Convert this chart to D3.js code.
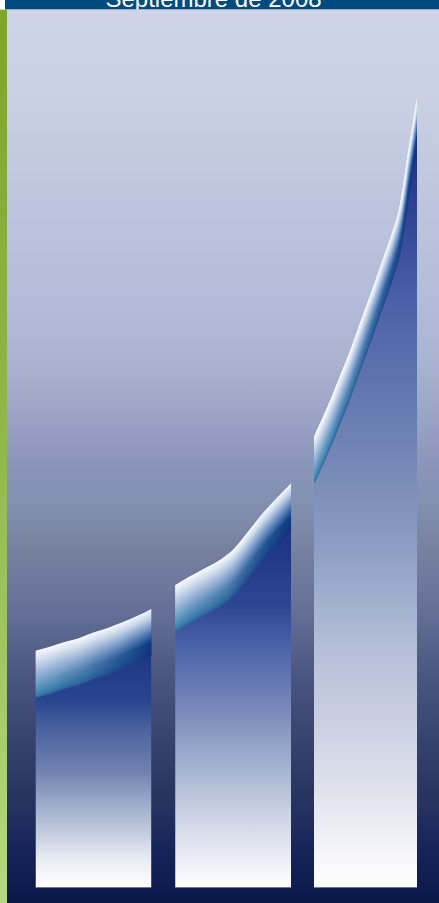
<!DOCTYPE html>
<html>
<head>
<meta charset="utf-8">
<script src="https://cdn.jsdelivr.net/npm/d3@7/dist/d3.min.js"></script>
<style>
  html, body { margin: 0; padding: 0; background: #ffffff; }
  svg { display: block; }
</style>
</head>
<body>
<script>
// ---------------- DATA ----------------
const title = "Septiembre de 2008";
const categories = ["Periodo 1", "Periodo 2", "Periodo 3"];
const barStart = [0, 36.6, 73.0];     // position along the period axis (0-100)
const barEnd   = [30.4, 67.0, 100];
const bar1Top = [29.9, 30.4, 31.0, 31.5, 32.2, 32.8, 33.5, 34.3, 35.2];
const bar2Top = [38.2, 39.3, 40.3, 41.3, 42.7, 44.9, 47.2, 49.2, 51.1];
const bar3Top = [57.0, 59.4, 61.9, 64.6, 67.3, 70.3, 73.3, 76.3, 79.4, 82.5, 86.3, 93.3, 100];
const barTops = [bar1Top, bar2Top, bar3Top];

// ---------------- STYLES ----------------
const W = 439, H = 903;
const baseY = 887, topY = 97;
const bandDepth = 46;
const bgStops = [
  [0, "#cfd5e7"], [0.11, "#c9d0e4"], [0.33, "#b3bcd8"], [0.40, "#aab3d0"],
  [0.465, "#9aa3c4"], [0.51, "#8c96ba"], [0.555, "#8390b0"], [0.61, "#76819f"],
  [0.665, "#69739a"], [0.75, "#4a5680"], [0.83, "#34406c"], [0.886, "#283460"],
  [0.94, "#17245a"], [1, "#0a1848"]
];
const greenStops = [[0, "#7ea428"], [0.5, "#92b84c"], [1, "#b4da80"]];
const bodyStops = [
  [[0, "#10287a"], [0.33, "#2a4590"], [0.435, "#4a63a0"], [0.58, "#7080b0"], [0.69, "#98a8c8"], [0.795, "#c0c8dc"], [0.9, "#e8ecf4"], [1, "#ffffff"]],
  [[0, "#10287a"], [0.3, "#2e4592"], [0.4, "#4a62a8"], [0.55, "#7586b8"], [0.7, "#a4b2d0"], [0.85, "#d4dae8"], [0.95, "#f0f2f8"], [1, "#ffffff"]],
  [[0, "#10287a"], [0.13, "#2a4090"], [0.257, "#4a60a8"], [0.485, "#7a8cb8"], [0.573, "#8e9ec4"], [0.70, "#b5c0d8"], [0.763, "#c4cade"], [0.865, "#dcdfeb"], [0.953, "#f4f4f8"], [1, "#ffffff"]]
];
const bandLeft = d3.scaleLinear()
  .domain([0, 0.1, 0.3, 0.55, 0.8, 0.95, 1])
  .range(["#f6f8fc", "#e6ecf5", "#c0d0e6", "#8eb0d2", "#5a96bc", "#3a80ac", "#2e6ca0"]);
const bandRight = d3.scaleLinear()
  .domain([0, 0.15, 0.35, 0.55, 0.7, 1])
  .range(["#f0f4fa", "#c8d6ea", "#7e9cca", "#3a64a4", "#0c3c82", "#14307e"]);

// ---------------- SCALES ----------------
const x = d3.scaleLinear().domain([0, 100]).range([35.5, 417]);
const y = d3.scaleLinear().domain([0, 100]).range([baseY, topY]);

const svg = d3.select("body").append("svg").attr("width", W).attr("height", H);
const defs = svg.append("defs");

function vGrad(id, stops, units) {
  const g = defs.append("linearGradient").attr("id", id)
    .attr("x1", 0).attr("x2", 0).attr("y1", 0).attr("y2", units === "user" ? H : 1);
  if (units === "user") g.attr("gradientUnits", "userSpaceOnUse");
  stops.forEach(s => g.append("stop").attr("offset", s[0]).attr("stop-color", s[1]));
  return `url(#${id})`;
}

// background
svg.append("rect").attr("x", 0).attr("y", 0).attr("width", W).attr("height", H)
  .attr("fill", vGrad("bg", bgStops, "user"));
// green strip
svg.append("rect").attr("x", 0).attr("y", 9.5).attr("width", 7).attr("height", H - 9.5)
  .attr("fill", vGrad("green", greenStops, "user"));
// header
svg.append("rect").attr("x", 0).attr("y", 0).attr("width", 5).attr("height", 9.5).attr("fill", "#ffffff");
defs.append("clipPath").attr("id", "hdrClip").append("rect")
  .attr("x", 5).attr("y", 0).attr("width", W - 5).attr("height", 9.5);
const hdr = svg.append("g").attr("clip-path", "url(#hdrClip)");
hdr.append("rect").attr("x", 5).attr("y", 0).attr("width", W - 5).attr("height", 9.5).attr("fill", "#004a7f");
hdr.append("text").attr("x", 213.5).attr("y", 6.5)
  .attr("text-anchor", "middle")
  .attr("font-family", "'Liberation Sans', Arial, sans-serif")
  .attr("font-size", 24).attr("fill", "#ffffff").text(title);

// bars
const area = d3.area().x(d => x(d[0])).y0(y(0)).y1(d => y(d[1])).curve(d3.curveMonotoneX);
const line = d3.line().x(d => x(d[0])).y(d => y(d[1])).curve(d3.curveMonotoneX);

categories.forEach((cat, i) => {
  const tops = barTops[i];
  const n = tops.length;
  const pts = tops.map((v, k) => [barStart[i] + (barEnd[i] - barStart[i]) * k / (n - 1), v]);
  const clipId = "barClip" + i;
  defs.append("clipPath").attr("id", clipId).append("path").attr("d", area(pts));
  const g = svg.append("g").attr("class", "bar").attr("clip-path", `url(#${clipId})`);
  g.append("path").attr("d", area(pts)).attr("fill", vGrad("body" + i, bodyStops[i], "bbox"));
  const x0 = x(barStart[i]), x1 = x(barEnd[i]);
  for (let d = bandDepth; d >= 0; d--) {
    const t = d / bandDepth;
    const gid = `band${i}_${d}`;
    const lg = defs.append("linearGradient").attr("id", gid)
      .attr("gradientUnits", "userSpaceOnUse")
      .attr("x1", x0).attr("x2", x1).attr("y1", 0).attr("y2", 0);
    lg.append("stop").attr("offset", 0).attr("stop-color", bandLeft(t));
    lg.append("stop").attr("offset", 0.45).attr("stop-color", d3.interpolateRgb(bandLeft(t), bandRight(t))(0.35));
    lg.append("stop").attr("offset", 1).attr("stop-color", bandRight(t));
    g.append("path").attr("d", line(pts))
      .attr("transform", `translate(0,${d})`)
      .attr("fill", "none")
      .attr("stroke", `url(#${gid})`)
      .attr("stroke-width", 1.8);
  }
  svg.append("line").attr("x1", x0).attr("x2", x1).attr("y1", baseY + 0.5).attr("y2", baseY + 0.5)
    .attr("stroke", "#6a7898").attr("stroke-width", 1);
});
</script>
</body>
</html>
